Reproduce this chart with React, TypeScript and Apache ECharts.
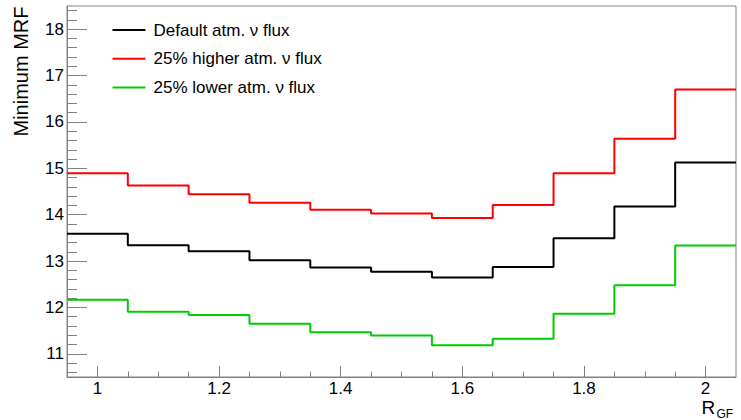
import React, { useEffect, useRef } from "react";
import * as echarts from "echarts";

// Bin centres (R_GF) and the common bin width
const binCenters = [1.0, 1.1, 1.2, 1.3, 1.4, 1.5, 1.6, 1.7, 1.8, 1.9, 2.0];
const binWidth = 0.1;

// Minimum MRF per bin for the three flux assumptions
const defaultFlux = [13.59, 13.34, 13.21, 13.02, 12.86, 12.77, 12.645, 12.87, 13.49, 14.175, 15.125];
const higherFlux = [14.895, 14.63, 14.44, 14.255, 14.105, 14.025, 13.93, 14.21, 14.895, 15.64, 16.7];
const lowerFlux = [12.165, 11.905, 11.835, 11.647, 11.467, 11.395, 11.187, 11.323, 11.862, 12.48, 13.335];

const seriesNames = [
  "Default atm. \u03bd flux",
  "25% higher atm. \u03bd flux",
  "25% lower atm. \u03bd flux",
];

// Axis ticks
const xMajorTicks = [1, 1.2, 1.4, 1.6, 1.8, 2];
const xMinorTicks = [1.05, 1.1, 1.15, 1.25, 1.3, 1.35, 1.45, 1.5, 1.55, 1.65, 1.7, 1.75, 1.85, 1.9, 1.95];
const yMajorTicks = [11, 12, 13, 14, 15, 16, 17, 18];
const yMinorTicks = [
  10.6, 10.8, 11.2, 11.4, 11.6, 11.8, 12.2, 12.4, 12.6, 12.8, 13.2, 13.4, 13.6, 13.8,
  14.2, 14.4, 14.6, 14.8, 15.2, 15.4, 15.6, 15.8, 16.2, 16.4, 16.6, 16.8, 17.2, 17.4,
  17.6, 17.8, 18.2, 18.4,
];

// Turn bin contents into a step outline: each bin contributes its low and high edge
function histOutline(values: number[]): [number, number][] {
  const pts: [number, number][] = [];
  values.forEach((v, i) => {
    const lo = +(binCenters[i] - binWidth / 2).toFixed(4);
    const hi = +(binCenters[i] + binWidth / 2).toFixed(4);
    pts.push([lo, v], [hi, v]);
  });
  return pts;
}

const AXIS_COLOR = "#808080";
const FONT = "Liberation Sans, Arial, Helvetica, sans-serif";

export default function App() {
  const ref = useRef<HTMLDivElement>(null);

  useEffect(() => {
    if (!ref.current) return;
    const chart = echarts.init(ref.current, undefined, { renderer: "svg" });

    const xMin = 0.95;
    const xMax = 2.05;
    const yMin = 10.5;
    const yMax = 18.5;

    const mkSeries = (name: string, values: number[], color: string) => ({
      name,
      type: "line",
      xAxisIndex: 0,
      yAxisIndex: 0,
      data: histOutline(values),
      symbol: "none",
      lineStyle: { color, width: 2 },
      itemStyle: { color },
    });

    chart.setOption({
      animation: false,
      backgroundColor: "#ffffff",
      textStyle: { fontFamily: FONT },
      grid: {
        left: 67,
        top: 6,
        right: 5,
        bottom: 43,
        show: true,
        borderColor: AXIS_COLOR,
        borderWidth: 1,
        containLabel: false,
      },
      legend: {
        orient: "vertical",
        left: 112.5,
        top: 21.5,
        padding: 0,
        icon: "rect",
        itemWidth: 33,
        itemHeight: 2,
        itemGap: 11.7,
        data: seriesNames,
        textStyle: { fontSize: 17, color: "#000", fontFamily: FONT, padding: [0, 0, 0, 3] },
      },
      xAxis: [
        {
          type: "value",
          position: "bottom",
          min: xMin,
          max: xMax,
          splitLine: { show: false },
          axisLine: { show: true, lineStyle: { color: AXIS_COLOR, width: 1 } },
          axisTick: {
            show: true,
            inside: true,
            length: 11,
            customValues: xMajorTicks,
            lineStyle: { color: AXIS_COLOR },
          },
          axisLabel: {
            customValues: xMajorTicks,
            color: "#000",
            fontSize: 17,
            lineHeight: 14,
            margin: 4,
            fontFamily: FONT,
          },
        },
        {
          type: "value",
          position: "bottom",
          min: xMin,
          max: xMax,
          splitLine: { show: false },
          axisLine: { show: false },
          axisTick: {
            show: true,
            inside: true,
            length: 5.5,
            customValues: xMinorTicks,
            lineStyle: { color: AXIS_COLOR },
          },
          axisLabel: { show: false },
        },
      ],
      yAxis: [
        {
          type: "value",
          position: "left",
          min: yMin,
          max: yMax,
          splitLine: { show: false },
          axisLine: { show: true, lineStyle: { color: AXIS_COLOR, width: 1 } },
          axisTick: {
            show: true,
            inside: true,
            length: 20,
            customValues: yMajorTicks,
            lineStyle: { color: AXIS_COLOR },
          },
          axisLabel: {
            customValues: yMajorTicks,
            color: "#000",
            fontSize: 17,
            margin: 3,
            fontFamily: FONT,
          },
        },
        {
          type: "value",
          position: "left",
          min: yMin,
          max: yMax,
          splitLine: { show: false },
          axisLine: { show: false },
          axisTick: {
            show: true,
            inside: true,
            length: 10,
            customValues: yMinorTicks,
            lineStyle: { color: AXIS_COLOR },
          },
          axisLabel: { show: false },
        },
      ],
      graphic: [
        {
          type: "text",
          x: 20.5,
          y: 6.5,
          rotation: Math.PI / 2,
          style: {
            text: "Minimum MRF",
            fontSize: 20,
            fontFamily: FONT,
            fill: "#000",
            align: "right",
            verticalAlign: "middle",
          },
        },
        {
          type: "text",
          x: 701.5,
          y: 407.5,
          style: {
            text: "R",
            fontSize: 19,
            lineHeight: 14,
            fontFamily: FONT,
            fill: "#000",
            align: "left",
            verticalAlign: "middle",
          },
        },
        {
          type: "text",
          x: 716.5,
          y: 413.5,
          style: {
            text: "GF",
            fontSize: 12,
            lineHeight: 10,
            fontFamily: FONT,
            fill: "#000",
            align: "left",
            verticalAlign: "middle",
          },
        },
      ],
      series: [
        mkSeries(seriesNames[0], defaultFlux, "#000000"),
        mkSeries(seriesNames[1], higherFlux, "#ff0000"),
        mkSeries(seriesNames[2], lowerFlux, "#00cc00"),
      ],
    });

    return () => chart.dispose();
  }, []);

  return (
    <div
      ref={ref}
      style={{ position: "fixed", left: 0, top: 0, width: 741, height: 420, background: "#fff" }}
    />
  );
}
